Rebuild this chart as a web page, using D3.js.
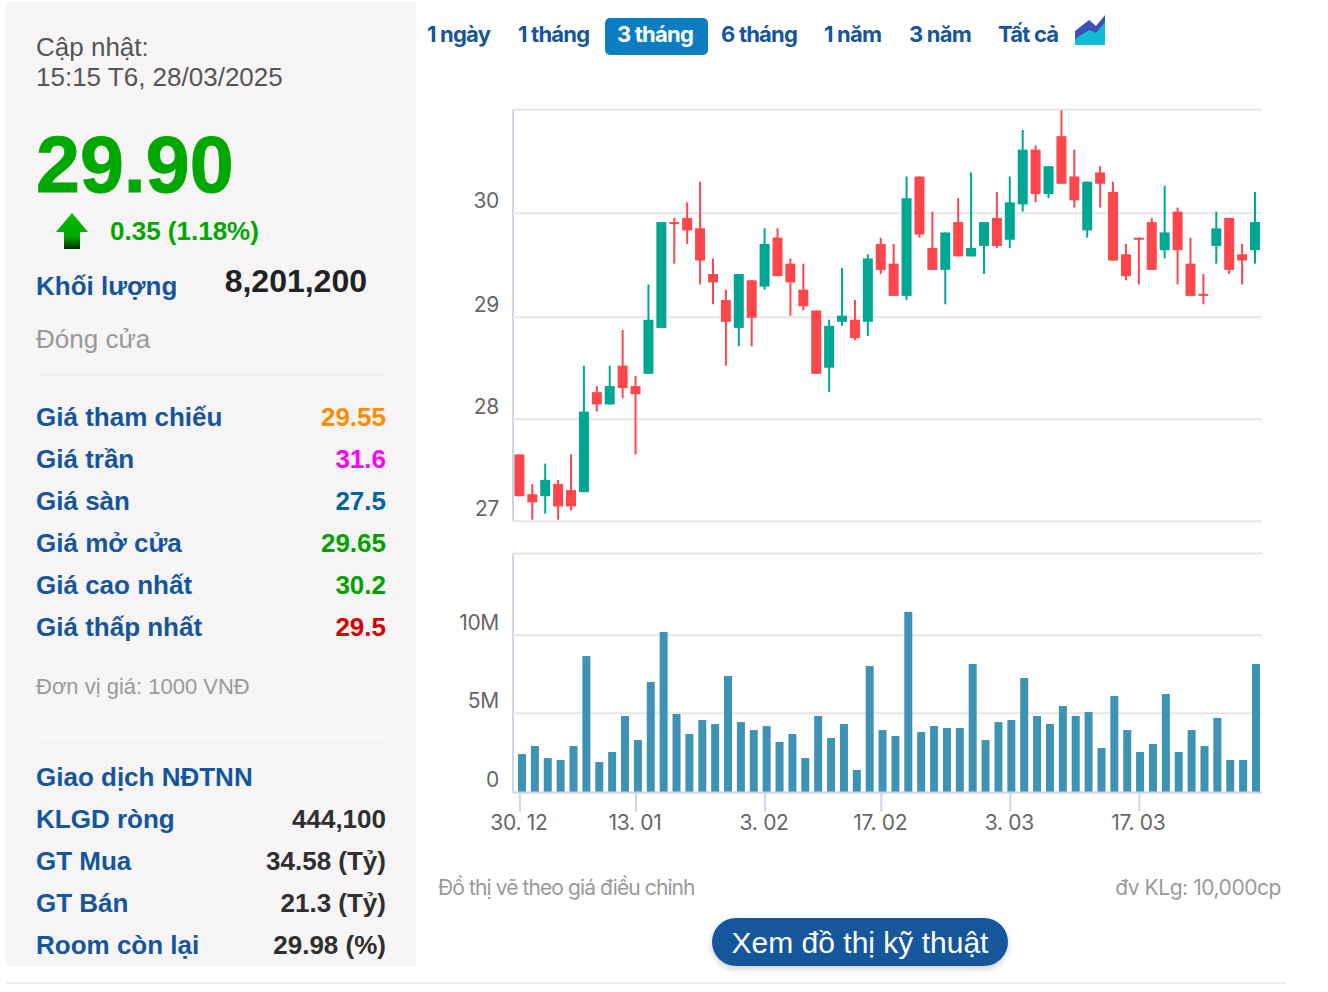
<!DOCTYPE html>
<html>
<head>
<meta charset="utf-8">
<script src="https://cdn.jsdelivr.net/npm/d3@7"></script>
<style>
  html, body { margin: 0; padding: 0; background: #fff; }
  svg { display: block; }
  text { font-family: "Liberation Sans", Arial, sans-serif; }
  .tab, .note { font-family: Inter, sans-serif; }
  .axis text { font-family: Inter, sans-serif; font-size: 21px; fill: #666; letter-spacing: -0.3px; }
</style>
</head>
<body>
<div id="chart"></div>
<script>
// price data, one entry per trading day
var opens = [27.65,27.26,27.24,27.36,27.30,27.28,28.26,28.14,28.52,28.32,28.44,28.89,29.91,29.95,29.85,29.41,29.16,28.89,29.35,29.29,
  29.76,29.51,29.26,29.06,28.50,28.95,28.97,28.95,29.70,29.51,29.20,30.35,29.66,29.45,29.91,29.58,29.68,29.95,29.74,30.08,
  30.61,30.18,30.74,30.35,29.83,30.39,30.20,29.60,29.76,29.91,29.64,30.01,29.51,29.22,29.68,29.95,29.60,29.64];
var highs = [27.65,27.36,27.56,27.40,27.65,28.52,28.32,28.52,28.87,28.42,29.31,29.91,29.95,30.10,30.30,29.56,29.26,29.41,29.35,29.85,
  29.85,29.56,29.51,29.06,28.97,29.47,29.16,29.60,29.76,29.70,30.35,30.35,30.01,29.81,30.14,30.39,29.91,30.20,30.35,30.80,
  30.65,30.45,30.99,30.61,30.30,30.45,30.30,29.70,29.76,29.95,30.26,30.05,29.76,29.41,30.01,29.95,29.70,30.20];
var lows = [27.24,27.01,27.07,27.01,27.10,27.28,28.07,28.14,28.20,27.65,28.44,28.89,29.51,29.70,29.31,29.12,28.52,28.71,28.71,29.26,
  29.39,29.01,29.06,28.44,28.26,28.91,28.77,28.81,29.41,29.20,29.16,29.76,29.45,29.12,29.58,29.58,29.41,29.66,29.66,30.01,
  30.10,30.14,30.28,30.05,29.76,30.05,29.54,29.35,29.31,29.45,29.56,29.31,29.20,29.12,29.51,29.41,29.31,29.51];
var closes = [27.24,27.18,27.40,27.14,27.14,28.07,28.14,28.32,28.30,28.24,28.97,29.91,29.89,29.83,29.54,29.33,28.95,29.41,28.99,29.70,
  29.39,29.33,29.10,28.44,28.91,29.01,28.79,29.56,29.45,29.20,30.14,29.79,29.45,29.81,29.58,29.66,29.91,29.68,30.10,30.61,
  30.18,30.45,30.28,30.12,30.30,30.28,29.54,29.39,29.74,29.45,29.81,29.64,29.20,29.20,29.85,29.45,29.54,29.91];

// volume, millions of shares
var volumes = [2.40,2.91,2.15,2.03,2.91,8.63,1.90,2.53,4.79,3.28,6.97,10.17,4.92,3.66,4.54,4.29,7.35,4.41,3.91,4.16,
  3.16,3.66,2.15,4.79,3.41,4.29,1.40,7.99,3.91,3.54,11.40,3.79,4.16,4.04,4.04,8.12,3.28,4.41,4.54,7.22,
  4.79,4.29,5.43,4.79,5.04,2.78,6.07,3.91,2.53,3.03,6.20,2.53,3.91,2.91,4.67,2.03,2.03,8.12];

// axis ticks
var dateTickIdx = [0, 9, 19, 28, 38, 48];
var dateTickLabels = ["30. 12", "13. 01", "3. 02", "17. 02", "3. 03", "17. 03"];
var priceTicks = [27, 28, 29, 30, 31];
var volTicks = [0, 5, 10, 15];

// side panel and tabs
var tabLabels = ["1 ngày", "1 tháng", "3 tháng", "6 tháng", "1 năm", "3 năm", "Tất cả"];
var priceRows = ["Giá tham chiếu", "Giá trần", "Giá sàn", "Giá mở cửa", "Giá cao nhất", "Giá thấp nhất"];
var priceVals = ["29.55", "31.6", "27.5", "29.65", "30.2", "29.5"];
var priceCols = ["#ff8c00", "#ff00ff", "#00649b", "#00a000", "#00a000", "#d80000"];
var foreignRows = ["KLGD ròng", "GT Mua", "GT Bán", "Room còn lại"];
var foreignVals = ["444,100", "34.58 (Tỷ)", "21.3 (Tỷ)", "29.98 (%)"];

var blue = "#15569b", up = "#02a794", down = "#fd474c";

var svg = d3.select("#chart").append("svg")
  .attr("width", 1328)
  .attr("height", 992);

var defs = svg.append("defs");
defs.append("clipPath").attr("id", "plotClip")
  .append("rect").attr("x", 514).attr("y", 105).attr("width", 750).attr("height", 416);
var arrowGrad = defs.append("linearGradient").attr("id", "arrowGrad")
  .attr("x1", 0).attr("x2", 0).attr("y1", 0).attr("y2", 1);
arrowGrad.append("stop").attr("offset", "0%").attr("stop-color", "#00c000");
arrowGrad.append("stop").attr("offset", "65%").attr("stop-color", "#00a800");
arrowGrad.append("stop").attr("offset", "100%").attr("stop-color", "#003000");
var shadow = defs.append("filter").attr("id", "btnShadow")
  .attr("x", "-10%").attr("y", "-20%").attr("width", "120%").attr("height", "160%");
shadow.append("feDropShadow").attr("dx", 0).attr("dy", 3).attr("stdDeviation", 3)
  .attr("flood-color", "#000").attr("flood-opacity", 0.18);

// ---- left panel
svg.append("rect").attr("x", 6).attr("y", 2).attr("width", 410).attr("height", 964).attr("fill", "#f6f4f5");
svg.append("line").attr("x1", 6).attr("x2", 1286).attr("y1", 983).attr("y2", 983)
  .attr("stroke", "#eeeeee").attr("stroke-width", 2);

function label(x, y, str, size, color, weight, anchor) {
  return svg.append("text").attr("x", x).attr("y", y).text(str)
    .attr("font-size", size).attr("fill", color)
    .attr("font-weight", weight || "normal")
    .attr("text-anchor", anchor || "start");
}

label(36, 56, "Cập nhật:", 26, "#555");
label(36, 86, "15:15 T6, 28/03/2025", 26, "#555");
label(36, 192, "29.90", 79, "#00a800", "bold").attr("stroke", "#00a800").attr("stroke-width", 1);
svg.append("path")
  .attr("d", "M72 213 L88 232 L80 232 L80 249 L64 249 L64 232 L56 232 Z")
  .attr("fill", "url(#arrowGrad)");
label(110, 240, "0.35 (1.18%)", 26, "#00a800", "bold");
label(36, 295, "Khối lượng", 26, blue, "bold");
label(367, 292, "8,201,200", 32, "#222", "bold", "end");
label(36, 348, "Đóng cửa", 26, "#999");

svg.append("line").attr("x1", 36).attr("x2", 386).attr("y1", 375).attr("y2", 375).attr("stroke", "#ebebeb");
priceRows.forEach(function(name, i) {
  var y = 426 + i * 42;
  label(36, y, name, 26, blue, "bold");
  label(386, y, priceVals[i], 26, priceCols[i], "bold", "end");
});
label(36, 694, "Đơn vị giá: 1000 VNĐ", 22, "#999");
svg.append("line").attr("x1", 36).attr("x2", 386).attr("y1", 744).attr("y2", 744).attr("stroke", "#ebebeb");
label(36, 786, "Giao dịch NĐTNN", 26, blue, "bold");
foreignRows.forEach(function(name, i) {
  var y = 828 + i * 42;
  label(36, y, name, 26, blue, "bold");
  label(386, y, foreignVals[i], 26, "#2f2f2f", "bold", "end");
});

// ---- tabs
var tabX = [427, 518, 617, 721, 824, 909, 998];
svg.append("rect").attr("x", 605).attr("y", 18).attr("width", 103).attr("height", 37).attr("rx", 5).attr("fill", "#0b7dc1");
tabLabels.forEach(function(t, i) {
  svg.append("text").attr("class", "tab").attr("x", tabX[i]).attr("y", 42).text(t)
    .attr("font-size", 22).attr("font-weight", 700).attr("letter-spacing", "-0.8px")
    .attr("fill", i == 2 ? "#fff" : blue);
});
// little area chart icon
svg.append("path").attr("d", "M1075 31 L1089 20 L1096 26 L1105 15 L1105 45 L1075 45 Z").attr("fill", "#3f4fb8");
svg.append("path").attr("d", "M1075 39 L1089 30 L1096 33 L1105 22 L1105 45 L1075 45 Z").attr("fill", "#0fbcd4");

// ---- scales
var x = d3.scaleLinear().domain([0, 57]).range([519.4, 1255]);
var xVol = d3.scaleLinear().domain([0, 57]).range([522, 1256]);
var y = d3.scaleLinear().domain(priceTicks).range([520.7, 418.7, 316.7, 212.7, 109.3]);
var yVol = d3.scaleLinear().domain(volTicks).range([792.3, 712.7, 634.7, 553]);

var plotLeft = 513, plotRight = 1262;

// ---- price axis + candles
var priceAxis = svg.append("g").attr("class", "axis")
  .attr("transform", "translate(" + plotLeft + ",0)")
  .call(d3.axisLeft(y).tickValues(priceTicks).tickSize(-(plotRight - plotLeft)).tickFormat(function(d) { return d == 31 ? "" : d; }));
priceAxis.select(".domain").attr("stroke", "#ccd6eb").attr("stroke-width", 2).attr("d", "M0,109V521");
priceAxis.selectAll(".tick line").attr("stroke", "#e6e6e6").attr("stroke-width", 2);
priceAxis.selectAll(".tick text").attr("x", -14).attr("dy", "-0.27em");

var candles = svg.append("g").attr("clip-path", "url(#plotClip)")
  .selectAll("g").data(d3.range(opens.length)).enter().append("g");
candles.append("rect")
  .attr("x", function(i) { return x(i) - 1; })
  .attr("width", 2)
  .attr("y", function(i) { return y(highs[i]); })
  .attr("height", function(i) { return y(lows[i]) - y(highs[i]); })
  .attr("fill", function(i) { return closes[i] >= opens[i] ? up : down; });
candles.append("rect")
  .attr("x", function(i) { return x(i) - 5; })
  .attr("width", 10)
  .attr("y", function(i) { return y(Math.max(opens[i], closes[i])); })
  .attr("height", function(i) { return Math.abs(y(opens[i]) - y(closes[i])); })
  .attr("fill", function(i) { return closes[i] >= opens[i] ? up : down; });

// ---- volume axis + bars
var volAxis = svg.append("g").attr("class", "axis")
  .attr("transform", "translate(" + plotLeft + ",0)")
  .call(d3.axisLeft(yVol).tickValues(volTicks).tickSize(-(plotRight - plotLeft)).tickFormat(function(d) {
    if (d == 15) return "";
    return d == 0 ? "0" : d + "M";
  }));
volAxis.select(".domain").attr("stroke", "#ccd6eb").attr("stroke-width", 2).attr("d", "M0,553V793");
volAxis.selectAll(".tick line").attr("stroke", "#e6e6e6").attr("stroke-width", 2);
volAxis.selectAll(".tick text").attr("x", -14).attr("dy", "-0.27em");

svg.append("g").selectAll("rect").data(volumes).enter().append("rect")
  .attr("x", function(d, i) { return xVol(i) - 4; })
  .attr("width", 8)
  .attr("y", function(d) { return yVol(d); })
  .attr("height", function(d) { return yVol(0) - yVol(d); })
  .attr("fill", "#3e92b4");

// ---- date axis
var dateAxis = svg.append("g").attr("class", "axis")
  .attr("transform", "translate(0,792.5)")
  .call(d3.axisBottom(x).tickValues(dateTickIdx).tickSize(19).tickFormat(function(d, i) { return dateTickLabels[i]; }));
dateAxis.select(".domain").attr("stroke", "#ccd6eb").attr("stroke-width", 2)
  .attr("d", "M" + plotLeft + ",0H" + plotRight);
dateAxis.selectAll(".tick line").attr("stroke", "#ccd6eb").attr("stroke-width", 2);
dateAxis.selectAll(".tick text").attr("x", -1).attr("y", 23).attr("dy", "0.71em");

// ---- footer notes and button
svg.append("text").attr("class", "note").attr("x", 438).attr("y", 895).text("Đồ thị vẽ theo giá điều chỉnh")
  .attr("font-size", 21).attr("fill", "#999").attr("letter-spacing", "-0.9px");
svg.append("text").attr("class", "note").attr("x", 1281).attr("y", 895).attr("text-anchor", "end").text("đv KLg: 10,000cp")
  .attr("font-size", 21).attr("fill", "#999").attr("letter-spacing", "-0.44px");
svg.append("rect").attr("x", 712).attr("y", 918).attr("width", 296).attr("height", 48).attr("rx", 24)
  .attr("fill", "#15569b").attr("filter", "url(#btnShadow)");
svg.append("text").attr("x", 860).attr("y", 953).attr("text-anchor", "middle").text("Xem đồ thị kỹ thuật")
  .attr("font-size", 30).attr("fill", "#fff");
</script>
</body>
</html>
